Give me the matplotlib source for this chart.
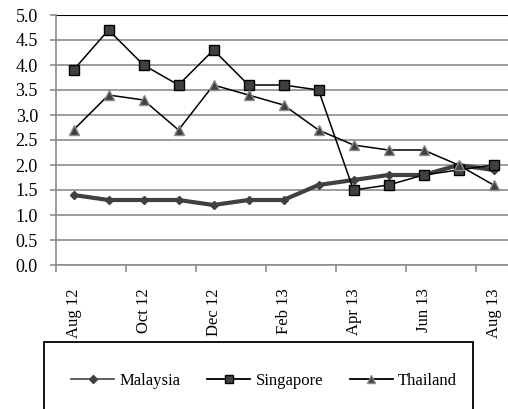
import matplotlib.pyplot as plt
from matplotlib.lines import Line2D
from matplotlib.patches import Rectangle
import numpy as np

plt.rcParams['font.family'] = 'serif'
plt.rcParams['font.serif'] = ['Liberation Serif', 'DejaVu Serif']

months = ["Aug 12", "Sep 12", "Oct 12", "Nov 12", "Dec 12", "Jan 13", "Feb 13",
          "Mar 13", "Apr 13", "May 13", "Jun 13", "Jul 13", "Aug 13"]
malaysia = [1.4, 1.3, 1.3, 1.3, 1.2, 1.3, 1.3, 1.6, 1.7, 1.8, 1.8, 2.0, 1.9]
singapore = [3.9, 4.7, 4.0, 3.6, 4.3, 3.6, 3.6, 3.5, 1.5, 1.6, 1.8, 1.9, 2.0]
thailand = [2.7, 3.4, 3.3, 2.7, 3.6, 3.4, 3.2, 2.7, 2.4, 2.3, 2.3, 2.0, 1.6]

fig = plt.figure(figsize=(5.08, 4.09), dpi=100)
ax = fig.add_axes([56 / 508, 1 - 265 / 409, 455 / 508, 250 / 409])

x = np.arange(len(months))
ax.plot(x, malaysia, color="#404040", lw=3, marker="D", ms=4,
        mfc="#404040", mec="#404040", zorder=3)
ax.plot(x, singapore, color="black", lw=1.1, marker="s", ms=6.5,
        mfc="#404040", mec="black", mew=1, zorder=4)
ax.plot(x, thailand, color="black", lw=1.1, marker="^", ms=6.5,
        mfc="#404040", mec="#8a8a8a", mew=1, zorder=4)

ax.set_xlim(-0.5, len(months) - 0.5)
ax.set_ylim(0, 5.0)
yt = np.arange(0, 5.01, 0.5)
ax.set_yticks(yt)
ax.set_yticklabels([f"{v:.1f}" for v in yt], fontsize=13)
ax.yaxis.grid(True, color="#8c8c8c", lw=1.2)
ax.axhline(5.0, color="black", lw=1.5, zorder=2)
ax.set_axisbelow(True)

# ticks at category boundaries, labels every second month
ax.set_xticks(np.arange(-0.5, len(months), 2))
ax.set_xticklabels([])
ax.set_xticks(x[::2], minor=True)
ax.set_xticklabels(months[::2], minor=True, rotation=90, fontsize=12,
                   va="top", ha="center")
ax.tick_params(axis="x", which="minor", length=0, pad=17)
ax.tick_params(axis="x", which="major", length=5, color="#8c8c8c", width=1.2)
ax.tick_params(axis="y", length=4, color="#8c8c8c", width=1.2, pad=9)

for s in ["top", "right"]:
    ax.spines[s].set_visible(False)
for s in ["left", "bottom"]:
    ax.spines[s].set_color("#8c8c8c")
    ax.spines[s].set_linewidth(1.2)

# legend box (runs off the bottom of the picture)
fig.patches.append(Rectangle((44 / 508, -0.05), 429 / 508, 1 - 342 / 409 + 0.05,
                             transform=fig.transFigure, fill=False,
                             edgecolor="black", lw=1.3))
handles = [
    Line2D([], [], color="#555555", lw=1.3, marker="D", ms=4, mfc="#404040", mec="#404040"),
    Line2D([], [], color="black", lw=1.3, marker="s", ms=6, mfc="#404040", mec="black"),
    Line2D([], [], color="black", lw=1.3, marker="^", ms=6, mfc="#404040", mec="#8a8a8a"),
]
fig.legend(handles, ["Malaysia", "Singapore", "Thailand"], loc="center",
           bbox_to_anchor=(264 / 508, 1 - 381 / 409), ncol=3, frameon=False,
           fontsize=12, handlelength=2.6, columnspacing=1.6, handletextpad=0.3)

fig.savefig("out.png", dpi=100)
